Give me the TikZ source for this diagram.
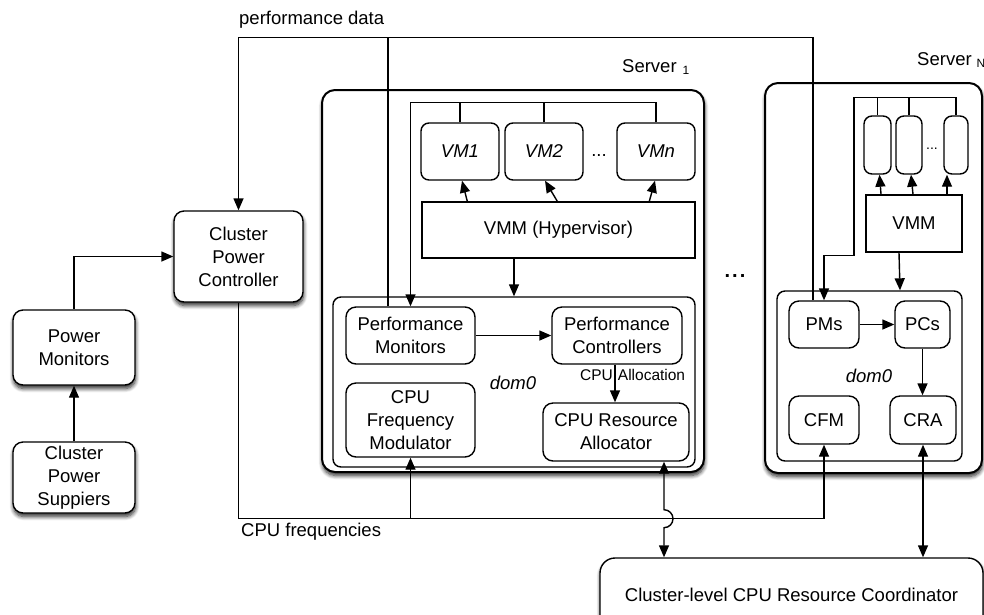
\documentclass[tikz,border=0pt]{standalone}
\usepackage{fontspec}
\setmainfont{Liberation Sans}
\usetikzlibrary{arrows.meta,shadows.blur}
\begin{document}
\begin{tikzpicture}[x=1pt,y=-1pt,
  every node/.style={font=\fontsize{18.5}{23}\selectfont},
  box/.style={draw, fill=white, rounded corners=10pt, line width=1.4pt, align=center, inner sep=0pt},
  plainbox/.style={draw, fill=white, line width=1.4pt, align=center, inner sep=0pt},
  softshadow/.style={blur shadow={shadow xshift=0.5pt, shadow yshift=-3.5pt, shadow blur radius=4pt, shadow blur steps=8, shadow opacity=85}},
  server/.style={box, line width=2pt, rounded corners=13pt, softshadow},
  vmbox/.style={box, rounded corners=8pt},
  wire/.style={line width=1.4pt},
  arr/.style={wire, -{Triangle[length=12pt,width=10pt]}},
  darr/.style={wire, {Triangle[length=12pt,width=10pt]}-{Triangle[length=12pt,width=10pt]}},
  lbl/.style={inner sep=0pt},
]
\clip (0,0) rectangle (984,614);

% ---------- cluster-level power control ----------
\node[box, softshadow, minimum width=129pt, minimum height=91pt] (cpc) at (238.5,256.5) {Cluster\\Power\\Controller};
\node[box, softshadow, minimum width=122pt, minimum height=75pt] (pmon) at (74,347.5) {Power\\Monitors};
\node[box, softshadow, minimum width=122pt, minimum height=71pt] (psup) at (74,477.5) {Cluster\\Power\\Suppiers};

% ---------- server 1 ----------
\node[server, minimum width=382pt, minimum height=382pt] (srv1) at (513,281) {};
\node[lbl, anchor=west] (s1lbl) at (622,67) {Server\hspace{6pt}\raisebox{-2pt}{\fontsize{12}{12}\selectfont 1}};
\node[vmbox, minimum width=78pt, minimum height=57pt] (vm1) at (460,151.5) {\itshape VM1};
\node[vmbox, minimum width=78pt, minimum height=57pt] (vm2) at (544,151.5) {\itshape VM2};
\node[vmbox, minimum width=78pt, minimum height=57pt] (vmn) at (656,151.5) {\itshape VMn};
\node[lbl] (vmdots1) at (599,156) {...};
\node[plainbox, minimum width=273pt, minimum height=56pt] (vmm1) at (558.5,230) {VMM (Hypervisor)};
\node[box, rounded corners=8pt, minimum width=362pt, minimum height=170pt] (dom1) at (514,382) {};
\node[lbl] (dom1lbl) at (513,383) {\itshape dom0};
\node[box, minimum width=129pt, minimum height=57pt] (perfmon) at (410.5,335.5) {Performance\\Monitors};
\node[box, minimum width=130pt, minimum height=57pt] (perfctl) at (617,335.5) {Performance\\Controllers};
\node[box, minimum width=129pt, minimum height=74pt] (cfm1) at (410.5,420) {CPU\\Frequency\\Modulator};
\node[box, minimum width=146pt, minimum height=58pt] (cra1) at (616,432) {CPU Resource\\Allocator};
\node[lbl, anchor=west, font=\fontsize{15.5}{15.5}\selectfont] (alloc) at (580,375) {CPU\hspace{5pt}Allocation};

% ---------- gap between servers ----------
\node[lbl, font=\fontsize{20}{20}\selectfont\bfseries] (gap) at (735,276) {.\kern2pt.\kern2pt.};

% ---------- server N ----------
\node[server, minimum width=217pt, minimum height=390pt] (srvN) at (873.5,278) {};
\node[lbl, anchor=west] (sNlbl) at (917,60) {Server\hspace{5pt}\raisebox{-2pt}{\fontsize{12}{12}\selectfont N}};
\node[vmbox, minimum width=27pt, minimum height=58pt] (vN1) at (877.5,145) {};
\node[vmbox, minimum width=26pt, minimum height=58pt] (vN2) at (909,145) {};
\node[vmbox, minimum width=24pt, minimum height=58pt] (vN3) at (956,145) {};
\node[lbl, font=\fontsize{14}{14}\selectfont] (vmdotsN) at (932,149) {...};
\node[plainbox, minimum width=96pt, minimum height=57pt] (vmmN) at (914,223.5) {VMM};
\node[box, rounded corners=8pt, minimum width=185pt, minimum height=170pt] (domN) at (869.5,376) {};
\node[lbl] (domNlbl) at (869,376) {\itshape dom0};
\node[box, minimum width=70pt, minimum height=47pt] (pms) at (824,324.5) {PMs};
\node[box, minimum width=55pt, minimum height=47pt] (pcs) at (922.5,324.5) {PCs};
\node[box, minimum width=70pt, minimum height=48pt] (cfmN) at (824,420) {CFM};
\node[box, minimum width=66pt, minimum height=48pt] (craN) at (923,420) {CRA};

% ---------- cluster-level coordinator ----------
\node[box, softshadow, rounded corners=15pt, minimum width=383pt, minimum height=74pt] (coord) at (791.5,595) {Cluster-level CPU Resource Coordinator};

% ---------- labels ----------
\node[lbl, anchor=west] (pdata) at (239,20) {performance data};
\node[lbl, anchor=west] (cpufreq) at (241,532) {CPU frequencies};

% ---------- performance data feedback ----------
\draw[arr] ([xshift=-11pt]pms.north) -- ++(0,-263) -| (cpc.north);
\draw[wire] ([xshift=-22.5pt]perfmon.north) -- ++(0,-269);

% ---------- power monitoring ----------
\draw[arr] (psup) -- (pmon);
\draw[arr] (pmon.north) |- (cpc.west);

% ---------- server 1 connectors ----------
\draw[arr] (vmn.north) -- ++(0,-20) -| (perfmon.north);
\draw[wire] (vm1.north) -- ++(0,-20);
\draw[wire] (vm2.north) -- ++(0,-20);
\draw[arr] ([xshift=46pt]vmm1.north west) -- ([xshift=2pt]vm1.south);
\draw[arr] ([xshift=136pt]vmm1.north west) -- ([xshift=1pt]vm2.south);
\draw[arr] ([xshift=228pt]vmm1.north west) -- ([xshift=-1pt]vmn.south);
\draw[arr] (vmm1.south -| dom1.north) -- (dom1.north);
\draw[arr] (perfmon) -- (perfctl);
\draw[arr] ([xshift=-2pt]perfctl.south) -- ([xshift=-1pt]cra1.north);

% ---------- server N connectors ----------
\draw[arr] (vN3.north) -- ++(0,-18) -- ++(-102,0) -- ++(0,158) -| (pms.north);
\draw[wire] (vN1.north) -- ++(0,-18);
\draw[wire] (vN2.north) -- ++(0,-18);
\draw[arr] ([xshift=-33pt]vmmN.north) -- ([xshift=2pt]vN1.south);
\draw[arr] ([xshift=-1pt]vmmN.north) -- ([xshift=2pt]vN2.south);
\draw[arr] ([xshift=33pt]vmmN.north) -- ([xshift=-9pt]vN3.south);
\draw[arr] ([xshift=-15pt]vmmN.south) -- ([xshift=30.5pt]domN.north);
\draw[arr] (pms) -- (pcs);
\draw[arr] (pcs.south) -- (pcs.south |- craN.north);

% ---------- CPU frequency distribution ----------
\draw[arr] (cpc.south) -- ++(0,216) -| (cfmN.south);
\draw[arr] ([yshift=-61pt]cfm1.south) -- (cfm1.south);

% ---------- resource coordination ----------
\draw[darr] ([xshift=48pt]cra1.south) -- ++(0,48) arc[start angle=90, end angle=-90, radius=9pt] -- ([xshift=48pt]cra1.south |- coord.north);
\draw[darr] (craN.south) -- (craN.south |- coord.north);
\end{tikzpicture}
\end{document}
